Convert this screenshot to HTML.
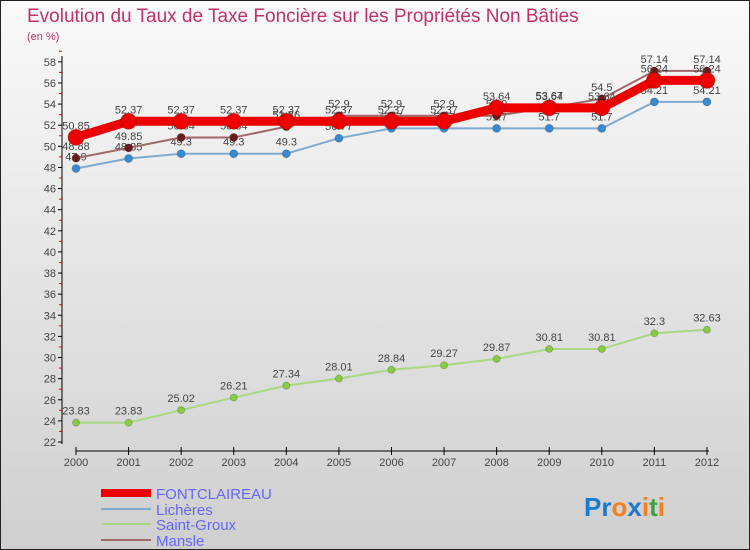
<!DOCTYPE html>
<html><head><meta charset="utf-8"><style>
body{margin:0;}
#c{width:748px;height:548px;border:1px solid #222;background:linear-gradient(#fafafa,#cfcfcf);position:relative;overflow:hidden;font-family:"Liberation Sans",sans-serif;}
svg{position:absolute;left:0;top:0}
</style></head><body>
<div id="c">
<svg id="s" width="748" height="548" xmlns="http://www.w3.org/2000/svg">
<text x="26" y="21" font-size="19" fill="#c0306a">Evolution du Taux de Taxe Foncière sur les Propriétés Non Bâties</text>
<text x="26" y="39" font-size="11" fill="#c0306a">(en %)</text>
<g>
<line x1="100" y1="492" x2="150" y2="492" stroke="#ee0000" stroke-width="8"/>
<text x="155" y="498" font-size="15" fill="#6666ff">FONTCLAIREAU</text>
<line x1="100" y1="508" x2="150" y2="508" stroke="#7eaad0" stroke-width="2"/>
<text x="155" y="514" font-size="15" fill="#6666ff">Lichères</text>
<line x1="100" y1="523" x2="150" y2="523" stroke="#a8d880" stroke-width="2"/>
<text x="155" y="529" font-size="15" fill="#6666ff">Saint-Groux</text>
<line x1="100" y1="539" x2="150" y2="539" stroke="#a06868" stroke-width="2"/>
<text x="155" y="545" font-size="15" fill="#6666ff">Mansle</text>
</g>
<text x="583" y="515" font-size="26" font-weight="bold"><tspan fill="#1a7ad0">Pr</tspan><tspan fill="#f08020">o</tspan><tspan fill="#1a7ad0">x</tspan><tspan fill="#f08020">i</tspan><tspan fill="#40a040">t</tspan><tspan fill="#f08020">i</tspan></text>
</svg>
</div>
<script>
const years=[2000,2001,2002,2003,2004,2005,2006,2007,2008,2009,2010,2011,2012];
const yTicks=[22,24,26,28,30,32,34,36,38,40,42,44,46,48,50,52,54,56,58];
const fontclaireau=[50.85,52.37,52.37,52.37,52.37,52.37,52.37,52.37,53.64,53.64,53.64,56.24,56.24];
const licheres=[47.9,48.85,49.3,49.3,49.3,50.77,51.7,51.7,51.7,51.7,51.7,54.21,54.21];
const saintGroux=[23.83,23.83,25.02,26.21,27.34,28.01,28.84,29.27,29.87,30.81,30.81,32.3,32.63];
const mansle=[48.88,49.85,50.84,50.84,51.86,52.9,52.9,52.9,52.9,53.67,54.5,57.14,57.14];
const NS="http://www.w3.org/2000/svg";
const s=document.getElementById('s');
const X=i=>75+i*52.58;
const Y=v=>441-(v-22)*10.56;
function el(t,a,p){const e=document.createElementNS(NS,t);for(const k in a)e.setAttribute(k,a[k]);(p||s).appendChild(e);return e;}
const ax=el('g',{});


const yl=el('line',{x1:61,y1:55,x2:61,y2:443,stroke:'#000'},ax);


yTicks.forEach(v=>{
 el('line',{x1:57,y1:Y(v),x2:61,y2:Y(v),stroke:'#000'},ax);
 el('line',{x1:58,y1:Y(v+1),x2:61,y2:Y(v+1),stroke:'#e00'},ax);
 const t=el('text',{x:55,y:Y(v)+4,'font-size':11,fill:'#444','text-anchor':'end'},ax);
 t.textContent=v;
 
 
});
const xl=el('line',{x1:75,y1:450,x2:708,y2:450,stroke:'#000'},ax);


years.forEach((yr,i)=>{
 el('line',{x1:X(i),y1:446,x2:X(i),y2:454,stroke:'#000'},ax);
 const t=el('text',{x:X(i),y:465,'font-size':11,fill:'#444','text-anchor':'middle'},ax);
 t.textContent=yr;
 
 
});
function series(name,data,color,w,r,dot){
 const g=el('g',{});
 
 
 const p=el('polyline',{points:data.map((v,i)=>X(i)+','+Y(v)).join(' '),fill:'none',stroke:color,'stroke-width':w,'stroke-linejoin':'round'},g);
 
 
 data.forEach((v,i)=>{
  const c=el('circle',{cx:X(i),cy:Y(v),r:r,fill:dot,stroke:'rgba(0,0,0,0.2)'},g);
  
  
  const t=el('text',{x:X(i),y:Y(v)-8,'font-size':11,fill:'#444','text-anchor':'middle'},g);
  t.textContent=String(v);
  
  
 });
}
series('saint-groux',saintGroux,'#a8d880',2,3.5,'#88cc44');
series('licheres',licheres,'#7eaad0',2,4,'#3a8ad0');
series('mansle',mansle,'#a06868',2,4,'#6a1a1a');
series('fontclaireau',fontclaireau,'#ee0000',9,8,'#ee0000');
</script>
</body></html>
